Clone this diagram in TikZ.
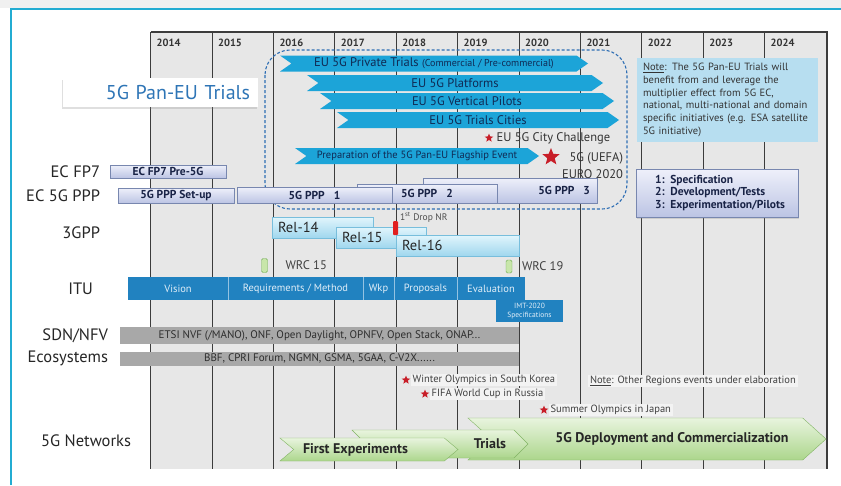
\documentclass[tikz,border=0pt]{standalone}
\usepackage{fontspec}
\setmainfont{PT Sans}
\usepackage{tikz}
\usetikzlibrary{positioning,shapes.symbols,shapes.geometric,shadows}

\definecolor{stripgray}{RGB}{240,240,240}
\definecolor{framecyan}{RGB}{35,172,210}
\definecolor{gridbg}{RGB}{231,231,231}
\definecolor{gridline}{RGB}{60,60,60}
\definecolor{trialcyan}{RGB}{28,164,216}
\definecolor{trialtext}{RGB}{16,42,84}
\definecolor{trialdash}{RGB}{46,110,180}
\definecolor{pantext}{RGB}{46,117,182}
\definecolor{notefill}{RGB}{183,222,240}
\definecolor{ppptop}{RGB}{238,240,250}
\definecolor{pppbottom}{RGB}{188,196,228}
\definecolor{pppborder}{RGB}{120,135,175}
\definecolor{ppptext}{RGB}{25,35,70}
\definecolor{reltop}{RGB}{225,245,252}
\definecolor{relbottom}{RGB}{160,215,238}
\definecolor{relborder}{RGB}{120,190,220}
\definecolor{itublue}{RGB}{33,130,192}
\definecolor{itutext}{RGB}{225,238,248}
\definecolor{sdngray}{RGB}{168,168,168}
\definecolor{sdntext}{RGB}{45,45,45}
\definecolor{nettop}{RGB}{232,244,222}
\definecolor{netbottom}{RGB}{172,214,140}
\definecolor{netborder}{RGB}{130,180,100}
\definecolor{starred}{RGB}{200,30,40}
\definecolor{wrcfill}{RGB}{200,230,170}
\definecolor{wrcborder}{RGB}{110,170,80}
\definecolor{eventbg}{RGB}{243,243,243}
\definecolor{dropred}{RGB}{225,30,30}

\def\colwidth{61.4}
\def\gridleft{150.7}
\newcommand\fsize[1]{\fontsize{#1}{#1}\selectfont}

\begin{document}
\begin{tikzpicture}[x=1pt,y=-1pt,inner sep=0pt,outer sep=0pt]
    \tikzstyle{row label}=[anchor=east,font=\fsize{16.5},text=black!85]
    \tikzstyle{year}=[anchor=west,font=\bfseries\fsize{10.5},text=black!80]
    \tikzstyle{trial frame}=[draw=trialdash,dash pattern=on 3pt off 2pt,line width=1.1pt,rounded corners=25pt]
    \tikzstyle{trial arrow}=[signal,signal from=west,signal to=east,signal pointer angle=70,fill=trialcyan,text=trialtext,minimum height=16,font=\fsize{12.5}]
    \tikzstyle{ppp box}=[rectangle,draw=pppborder,top color=ppptop,bottom color=pppbottom,text=ppptext,font=\bfseries\fsize{11.5}]
    \tikzstyle{rel box}=[rectangle,draw=relborder,top color=reltop,bottom color=relbottom,minimum height=21,inner xsep=6pt,align=left,font=\fsize{14.5},text=black!85]
    \tikzstyle{itu seg}=[rectangle,fill=itublue,text=itutext,minimum height=23,font=\fsize{10.5}]
    \tikzstyle{itu sep}=[draw=itutext!60!itublue,line width=0.6pt]
    \tikzstyle{sdn bar}=[rectangle,fill=sdngray,text=sdntext,minimum width=399,font=\fsize{11}]
    \tikzstyle{event}=[anchor=west,fill=eventbg,inner xsep=2pt,inner ysep=1.5pt,font=\fsize{10.5},text=black!75]
    \tikzstyle{event star}=[star,star points=5,star point ratio=2.3,fill=starred,minimum size=9]
    \tikzstyle{wrc mark}=[rectangle,rounded corners=1.5pt,draw=wrcborder,fill=wrcfill,minimum width=6,minimum height=14]
    \tikzstyle{wrc text}=[font=\fsize{12.5},text=black!75]
    \tikzstyle{net arrow}=[signal,signal from=west,signal to=east,draw=netborder,top color=nettop,bottom color=netbottom]
    \tikzstyle{net text}=[font=\bfseries\fsize{14},text=black!85]

    \useasboundingbox (0,0) rectangle (841,485);

    % Page frame
    \fill[white] (0,0) rectangle (841,485);
    \fill[stripgray] (0,0) rectangle (841,8);
    \draw[framecyan,line width=2pt] (10.5,485) -- (10.5,9) -- (841,9);

    % Draw the year grid
    \fill[gridbg] (\gridleft,32) rectangle (826.5,469);
    \foreach \i in {0,...,10}
        \draw[gridline,line width=0.9pt] (\gridleft+\i*\colwidth,32) -- (\gridleft+\i*\colwidth,469);
    \draw[gridline,line width=2pt] (\gridleft,32) -- (826.5,32) -- (826.5,469);
    \foreach \yr [count=\i from 0] in {2014,...,2024}
        \node[year] (Y-\yr) at (\gridleft+\i*\colwidth+6,43) {\yr};

    % Label the rows
    \node[drop shadow={shadow xshift=-1.5pt,shadow yshift=-1.5pt,opacity=0.25},fill=white,minimum height=29,text width=179,inner xsep=8pt,align=right,font=\fsize{20},text=pantext] (pan) at (160.5,92.5) {5G Pan-EU Trials};
    \node[row label] (L-fp7) at (100,171.5) {EC FP7};
    \node[row label] (L-ppp) at (100,195.5) {EC 5G PPP};
    \node[row label] (L-3gpp) at (100,233) {3GPP};
    \node[row label] (L-itu) at (93,289) {ITU};
    \node[row label] (L-sdn) at (108,335.5) {SDN/NFV};
    \node[row label] (L-eco) at (108,358) {Ecosystems};
    \node[row label] (L-net) at (131,441) {5G Networks};

    % Draw the Pan-EU trials
    \draw[trial frame] (265,50) rectangle (627,209);
    \node[trial arrow,minimum width=308] (T-private) at (434,63.5) {EU 5G Private Trials {\fsize{10}(Commercial / Pre-commercial)}};
    \node[trial arrow,minimum width=296] (T-platforms) at (455,83) {EU 5G Platforms};
    \node[trial arrow,minimum width=294] (T-vertical) at (467,101) {EU 5G Vertical Pilots};
    \node[trial arrow,minimum width=282] (T-cities) at (478,120) {EU 5G Trials Cities};
    \node[event star] (S-city) at (489,138) {};
    \node[anchor=west,font=\fsize{12.5},text=black!80,right=5pt of S-city] (city) {EU 5G City Challenge};
    \node[trial arrow,minimum width=244,font=\fsize{10.5}] (T-flagship) at (417,156) {Preparation of the 5G Pan-EU Flagship Event};
    \node[event star,minimum size=18] (S-euro) at (551,157) {};
    \node[anchor=east,align=right,font=\fsize{12.5},text=black!80] (euro) at (623,166) {5G (UEFA)\\[4.5pt]EURO 2020};

    % Note on the trials
    \node[anchor=north west,fill=notefill,minimum width=181,minimum height=84,text width=169,inner xsep=6pt,inner ysep=4pt,align=left,font={\fontsize{10.5}{12.8}\selectfont},text=black!80] (note) at (637,58)
        {\underline{Note}: The 5G Pan-EU Trials will\\benefit from and leverage the\\multiplier effect from 5G EC,\\national, multi-national and domain\\specific initiatives (e.g. ESA satellite\\5G initiative)};

    % Draw the EC framework programmes
    \node[ppp box,minimum width=116,minimum height=13] (fp7) at (168,171.5) {EC FP7 Pre-5G};
    \node[ppp box,minimum width=116,minimum height=15] (setup) at (176,195.5) {5G PPP Set-up};
    \node[ppp box,minimum width=174,minimum height=25] (ppp3) at (510,190.5) {};
    \node[ppp box,minimum width=140,minimum height=19] (ppp2) at (427,193.5) {5G PPP\hspace{9pt}2};
    \node[ppp box,minimum width=155,minimum height=16] (ppp1) at (314.5,195) {5G PPP\hspace{9pt}1};
    \node[font=\bfseries\fsize{11.5},text=ppptext,left=7pt of ppp3.east] (ppp3-label) {5G PPP\hspace{9pt}3};
    \node[ppp box,minimum width=162,minimum height=48,text width=124,align=left,font={\bfseries\fontsize{11.5}{12.5}\selectfont},drop shadow={shadow xshift=1pt,shadow yshift=-1.5pt,opacity=0.25}] (legend) at (717,193)
        {\mbox{1: Specification}\\\mbox{2: Development/Tests}\\\mbox{3: Experimentation/Pilots}};

    % Draw the 3GPP releases
    \node[rel box,text width=89] (rel14) at (322.5,227.5) {Rel-14};
    \node[rel box,text width=78] (rel15) at (381,237.5) {Rel-15};
    \node[rel box,text width=111] (rel16) at (457.5,245.5) {Rel-16};
    \node[rectangle,rounded corners=1pt,fill=dropred,minimum width=5,minimum height=14] (drop) at (395.5,228) {};
    \node[anchor=west,font=\fsize{9.5},text=black!70] (drop-label) at (400,217) {1\textsuperscript{st} Drop NR};

    % Draw the ITU phases
    \node[wrc mark] (wrc15) at (264.5,265.5) {};
    \node[wrc text,right=18pt of wrc15] (wrc15-label) {WRC 15};
    \node[wrc mark,minimum height=13] (wrc19) at (509,266.5) {};
    \node[wrc text,right=10pt of wrc19] (wrc19-label) {WRC 19};
    \node[itu seg,minimum width=100] (vision) at (178,288.5) {Vision};
    \node[itu seg,minimum width=135,right=0pt of vision] (req) {Requirements / Method};
    \node[itu seg,minimum width=31,right=0pt of req] (wkp) {Wkp};
    \node[itu seg,minimum width=63,right=0pt of wkp] (proposals) {Proposals};
    \node[itu seg,minimum width=68,right=0pt of proposals] (evaluation) {Evaluation};
    \foreach \seg in {vision,req,wkp,proposals}
        \draw[itu sep] (\seg.north east) -- (\seg.south east);
    \node[itu seg,minimum width=67,minimum height=22,align=center,font={\fontsize{7.5}{9}\selectfont}] (imt) at (529.5,311) {IMT-2020\\Specifications};

    % Draw the SDN/NFV and ecosystem bars
    \node[sdn bar,minimum height=17] (sdn) at (319.5,335.5) {ETSI NVF (/MANO), ONF, Open Daylight, OPNFV, Open Stack, ONAP...};
    \node[sdn bar,minimum height=14] (eco) at (319.5,358.5) {BBF, CPRI Forum, NGMN, GSMA, 5GAA, C-V2X......};

    % Mark the sport events
    \node[event star] (S-winter) at (406,380) {};
    \node[event,right=2pt of S-winter] (winter) {Winter Olympics in South Korea};
    \node[event star] (S-fifa) at (425,394) {};
    \node[event,right=2pt of S-fifa] (fifa) {FIFA World Cup in Russia};
    \node[event star] (S-summer) at (544,410) {};
    \node[event,right=2pt of S-summer] (summer) {Summer Olympics in Japan};
    \node[event] (regions) at (588,381) {\underline{Note}: Other Regions events under elaboration};

    % Draw the 5G network phases
    \node[net arrow,minimum width=358,minimum height=42,signal pointer angle=84] (deploy) at (647,439) {};
    \node[net arrow,minimum width=176,minimum height=28,signal pointer angle=90] (trials) at (440,444) {};
    \node[net arrow,minimum width=178,minimum height=23,signal pointer angle=80] (first) at (369,449.5) {};
    \node[net text] (deploy-label) at ([xshift=25pt]deploy.center) {5G Deployment and Commercialization};
    \node[net text] (trials-label) at ([xshift=50pt]trials.center) {Trials};
    \node[net text] (first-label) at ([xshift=-13.5pt]first.center) {First Experiments};
\end{tikzpicture}
\end{document}
